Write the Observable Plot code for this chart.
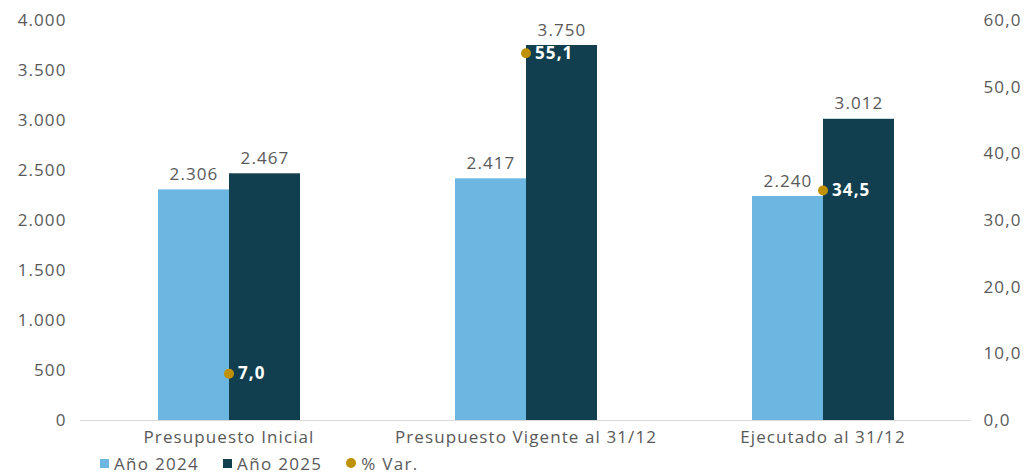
<!DOCTYPE html>
<html>
<head>
<meta charset="utf-8">
<script src="https://cdn.jsdelivr.net/npm/d3@7"></script>
<script src="https://cdn.jsdelivr.net/npm/@observablehq/plot@0.6"></script>
<style>
  html, body { margin: 0; padding: 0; background: #fff; }
  body { width: 1033px; height: 476px; overflow: hidden; font-family: "Open Sans", sans-serif; }
  svg text { letter-spacing: 1.1px; }
  #legend { display: flex; align-items: center; gap: 0; margin-left: 100px; margin-top: 0px; font-size: 17px; color: #595959; height: 22px; letter-spacing: 1.3px; }
  .item { display: flex; align-items: center; margin-right: 24px; }
  .sw { width: 9px; height: 9px; margin-right: 5px; }
  .dot { width: 10px; height: 10px; border-radius: 50%; margin-right: 5px; }
</style>
</head>
<body>
<div id="chart"></div>
<div id="legend"></div>
<script>
const categories = ["Presupuesto Inicial", "Presupuesto Vigente al 31/12", "Ejecutado al 31/12"];
const years = ["Año 2024", "Año 2025"];
const values2024 = [2306, 2417, 2240];
const values2025 = [2467, 3750, 3012];
const pctVar = [7.0, 55.1, 34.5];
const leftTicks = [0, 500, 1000, 1500, 2000, 2500, 3000, 3500, 4000];
const rightTicks = [0, 10, 20, 30, 40, 50, 60];
const colors = ["#6cb7e2", "#123f50"];
const dotColor = "#bf9000";

const yMax = 4000, rMax = 60;
const toLeft = v => v * yMax / rMax;

const bars = [];
categories.forEach((c, i) => {
  bars.push({cat: c, year: years[0], value: values2024[i]});
  bars.push({cat: c, year: years[1], value: values2025[i]});
});
const pts = categories.map((c, i) => ({cat: c, pct: pctVar[i]}));

const loc = d3.formatLocale({decimal: ",", thousands: ".", grouping: [3], currency: ["", ""]});
const fmtInt = loc.format(",.0f");
const fmt1 = loc.format(".1f");

const font = "Open Sans";
const chart = Plot.plot({
  width: 1033,
  height: 452,
  marginTop: 20,
  marginBottom: 32,
  marginLeft: 80,
  marginRight: 62,
  style: {fontFamily: font, fontSize: "17px", color: "#595959", background: "#fff"},
  fx: {domain: categories, padding: 0, label: null},
  x: {domain: years, paddingInner: 0, paddingOuter: 1.09, axis: null},
  y: {domain: [0, yMax], axis: null},
  color: {domain: years, range: colors},
  marks: [
    Plot.axisFx({anchor: "bottom", tickSize: 0, tickPadding: 10, label: null, fontSize: 17, fill: "#595959"}),
    Plot.axisY(leftTicks, {anchor: "left", tickSize: 0, tickPadding: 14, label: null, tickFormat: fmtInt, fontSize: 17, fill: "#595959"}),
    Plot.axisY(rightTicks.map(toLeft), {anchor: "right", tickSize: 0, tickPadding: 12, label: null, tickFormat: v => fmt1(v * rMax / yMax), fontSize: 17, fill: "#595959"}),
    Plot.barY(bars, {fx: "cat", x: "year", y: "value", fill: "year"}),
    Plot.ruleY([0], {stroke: "#d9d9d9", strokeWidth: 1}),
    Plot.text(bars, {fx: "cat", x: "year", y: "value", text: d => fmtInt(d.value), dy: -10, lineAnchor: "bottom", fill: "#595959", fontSize: 17}),
    Plot.dot(pts, {fx: "cat", y: d => toLeft(d.pct), r: 5, fill: dotColor}),
    Plot.text(pts, {fx: "cat", y: d => toLeft(d.pct), text: d => fmt1(d.pct), dx: 9, textAnchor: "start", fill: "#fff", fontWeight: "bold", fontSize: 17})
  ]
});
document.getElementById("chart").appendChild(chart);

const legend = document.getElementById("legend");
years.forEach((y, i) => {
  const it = document.createElement("div"); it.className = "item";
  const sw = document.createElement("div"); sw.className = "sw"; sw.style.background = colors[i];
  it.appendChild(sw); it.appendChild(document.createTextNode(y));
  legend.appendChild(it);
});
{
  const it = document.createElement("div"); it.className = "item";
  const sw = document.createElement("div"); sw.className = "dot"; sw.style.background = dotColor;
  it.appendChild(sw); it.appendChild(document.createTextNode("% Var."));
  legend.appendChild(it);
}
</script>
</body>
</html>
